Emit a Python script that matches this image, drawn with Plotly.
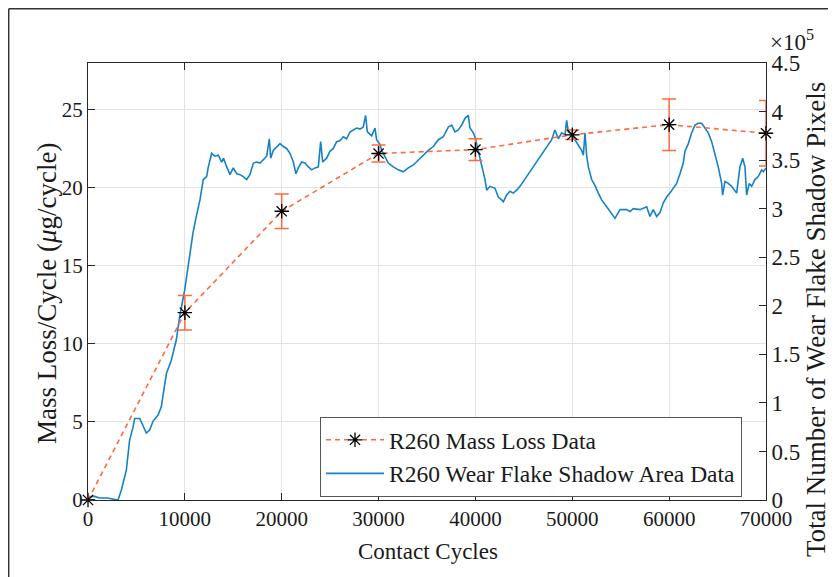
import plotly.graph_objects as go

# Mass loss data (left axis)
mass_cycles = [0, 10000, 20000, 30000, 40000, 50000, 60000, 70000]
mass_loss = [0.0, 12.0, 18.5, 22.2, 22.45, 23.4, 24.05, 23.5]
mass_err = [0.0, 1.1, 1.1, 0.55, 0.7, 0.3, 1.65, 2.1]

# Wear flake shadow area (right axis, pixels)
flake_cycles = [0, 600, 1200, 2000, 3100, 3440, 3960, 4300, 4650, 4820, 5340, 5680, 6020, 6370,
                6710, 7230, 7570, 8090, 8600, 9120, 9470, 9980, 10320, 10840, 11180, 11360,
                11560, 11900, 12250, 12420, 12770, 13110, 13450, 13800, 14000, 14320, 14660,
                15000, 15350, 15690, 16030, 16380, 16720, 17070, 17410, 17760, 18100, 18450,
                18720, 18860, 19130, 19480, 19820, 20170, 20510, 20850, 21200, 21470, 21710,
                22060, 22400, 22750, 23090, 23440, 23780, 24020, 24230, 24640, 24980, 25330,
                25670, 26000, 26360, 26700, 27050, 27390, 27740, 28100, 28420, 28660, 28840,
                29290, 29630, 29800, 30150, 30320, 30660, 31000, 31520, 32040, 32550, 33070,
                33590, 34100, 34620, 35130, 35650, 36170, 36680, 37200, 37550, 37890, 38230,
                38580, 38920, 39260, 39440, 39780, 39950, 40290, 40640, 40990, 41160, 41500,
                42020, 42360, 42710, 42880, 43220, 43570, 43910, 44260, 44600, 44940, 45290,
                45630, 45970, 46320, 46840, 47350, 47870, 48210, 48560, 48900, 49250, 49420,
                49590, 49940, 50280, 50620, 50970, 51140, 51310, 51490, 51660, 52000, 52340,
                52690, 53030, 53550, 54070, 54410, 54920, 55610, 55960, 56300, 56990, 57680,
                58020, 58190, 58360, 58710, 59050, 59400, 59740, 60080, 60430, 60770, 61120,
                61460, 61630, 61980, 62320, 62670, 63010, 63360, 63700, 64040, 64390, 64730,
                65070, 65420, 65520, 65760, 66110, 66450, 66800, 66970, 67310, 67590, 67830,
                68000, 68270, 68520, 68860, 69200, 69550, 69720, 70000]
flake_pixels_e5 = [0.02, 0.04, 0.02, 0.02, 0.00, 0.10, 0.31, 0.62, 0.75, 0.84, 0.84, 0.755, 0.69, 0.72,
                   0.81, 0.875, 0.96, 1.30, 1.44, 1.65, 1.89, 2.16, 2.40, 2.75, 2.92, 3.00,
                   3.09, 3.30, 3.33, 3.43, 3.57, 3.54, 3.55, 3.48, 3.52, 3.43, 3.35,
                   3.42, 3.36, 3.35, 3.33, 3.30, 3.35, 3.47, 3.48, 3.47, 3.50, 3.54,
                   3.72, 3.52, 3.60, 3.64, 3.67, 3.64, 3.62, 3.57, 3.48, 3.36, 3.42,
                   3.48, 3.47, 3.43, 3.40, 3.42, 3.43, 3.69, 3.48, 3.52, 3.59, 3.62,
                   3.69, 3.70, 3.74, 3.72, 3.79, 3.81, 3.83, 3.82, 3.84, 3.96, 3.79,
                   3.75, 3.83, 3.71, 3.66, 3.60, 3.54, 3.47, 3.43, 3.40, 3.38, 3.42,
                   3.45, 3.50, 3.55, 3.60, 3.64, 3.71, 3.74, 3.84, 3.86, 3.79, 3.81,
                   3.86, 3.93, 3.96, 3.83, 3.78, 3.74, 3.60, 3.43, 3.30, 3.19, 3.23,
                   3.21, 3.12, 3.09, 3.07, 3.14, 3.18, 3.16, 3.19, 3.23, 3.28, 3.33,
                   3.38, 3.43, 3.48, 3.57, 3.64, 3.71, 3.81, 3.72, 3.78, 3.76, 3.91,
                   3.79, 3.76, 3.71, 3.66, 3.60, 3.55, 3.78, 3.54, 3.43, 3.30, 3.24,
                   3.16, 3.09, 3.02, 2.95, 2.90, 2.99, 2.99, 2.97, 3.00, 2.99, 3.02,
                   2.92, 2.96, 2.99, 2.92, 2.96, 3.06, 3.12, 3.16, 3.21, 3.26, 3.36,
                   3.47, 3.59, 3.67, 3.78, 3.86, 3.88, 3.88, 3.83, 3.78, 3.69, 3.57,
                   3.43, 3.26, 3.14, 3.28, 3.26, 3.23, 3.18, 3.16, 3.43, 3.52, 3.43,
                   3.14, 3.26, 3.23, 3.30, 3.33, 3.40, 3.38, 3.42]
flake_pixels = [v * 1e5 for v in flake_pixels_e5]

x_ticks = [0, 10000, 20000, 30000, 40000, 50000, 60000, 70000]
left_ticks = [0, 5, 10, 15, 20, 25]
right_tickvals = [0, 0.5e5, 1e5, 1.5e5, 2e5, 2.5e5, 3e5, 3.5e5, 4e5, 4.5e5]
right_ticktext = ["0", "0.5", "1", "1.5", "2", "2.5", "3", "3.5", "4", "4.5"]

FONT = "Liberation Serif, Times New Roman, serif"
ORANGE = "#FF6A3D"
BLUE = "#1582C8"
AXC = "#262626"
TXT = "#1a1a1a"
FS = 21

fig = go.Figure()
# blue series on base axis (right side), orange on overlaying left axis so it draws on top
fig.add_trace(go.Scatter(
    x=flake_cycles, y=flake_pixels, xaxis="x", yaxis="y", mode="lines",
    line=dict(color=BLUE, width=1.6),
    name="R260 Wear Flake Shadow Area Data", legendrank=2,
))
fig.add_trace(go.Scatter(
    x=mass_cycles, y=mass_loss, xaxis="x", yaxis="y2", mode="lines+markers",
    line=dict(color=ORANGE, width=1.6, dash="5px,4px"),
    marker=dict(symbol="asterisk-open", size=12, color="black", line=dict(color="black", width=1.3)),
    error_y=dict(type="data", array=mass_err, color=ORANGE, thickness=1.5, width=7),
    name="R260 Mass Loss Data", legendrank=1, cliponaxis=False,
))

# the page body adds an 8px offset, so margins are reduced by 8
fig.update_layout(
    width=828, height=569,
    margin=dict(l=80, r=70, t=55, b=77),
    paper_bgcolor="white", plot_bgcolor="white",
    font=dict(family=FONT, size=FS, color=TXT),
    showlegend=True,
    legend=dict(x=(320 - 88) / 678, y=(500 - 417) / 437, xanchor="left", yanchor="top",
                bgcolor="white", bordercolor="#555555", borderwidth=1,
                font=dict(family=FONT, size=23.5, color=TXT),
                itemwidth=58, tracegroupgap=0),
    xaxis=dict(range=[0, 70000], tickvals=x_ticks, ticktext=[str(t) for t in x_ticks],
               ticks="inside", ticklen=7, tickcolor=AXC, showline=True, linecolor=AXC,
               linewidth=1, mirror="ticks", showgrid=True, gridcolor="#E3E3E3", gridwidth=1,
               zeroline=False, tickfont=dict(size=FS)),
    yaxis=dict(range=[0, 4.5e5], side="right", tickvals=right_tickvals,
               ticktext=right_ticktext, ticks="inside", ticklen=7, tickcolor=AXC,
               showline=True, linecolor=AXC, linewidth=1, showgrid=False, zeroline=False,
               tickfont=dict(size=23)),
    yaxis2=dict(range=[0, 28], overlaying="y", side="left", tickvals=left_ticks,
                ticks="inside", ticklen=7, tickcolor=AXC, showline=True, linecolor=AXC,
                linewidth=1, showgrid=True, gridcolor="#E3E3E3", zeroline=False,
                tickfont=dict(size=FS)),
)

def px(xs):
    return (xs - 88) / 678

def py(ys):
    return (500 - ys) / 437

annotations = [
    dict(text="Contact Cycles", x=px(428), y=py(551), xref="paper", yref="paper",
         xanchor="center", yanchor="middle", showarrow=False, font=dict(size=23)),
    dict(text="Mass Loss/Cycle (<i>μ</i>g/cycle)", x=px(47), y=py(293), xref="paper", yref="paper",
         xanchor="center", yanchor="middle", showarrow=False, textangle=-90, font=dict(size=27)),
    dict(text="Total Number of Wear Flake Shadow Pixels", x=px(816), y=py(320), xref="paper",
         yref="paper", xanchor="center", yanchor="middle", showarrow=False, textangle=-90,
         font=dict(size=27)),
    dict(text="×10<sup>5</sup>", x=px(768), y=py(41), xref="paper", yref="paper",
         xanchor="left", yanchor="middle", showarrow=False, font=dict(size=23)),
]
fig.update_layout(annotations=annotations)

# outer figure frame (top and left edges visible)
fig.add_shape(type="line", xref="paper", yref="paper", x0=px(8.7), x1=px(836), y0=py(8.7), y1=py(8.7),
              line=dict(color="#333333", width=1.5))
fig.add_shape(type="line", xref="paper", yref="paper", x0=px(8.7), x1=px(8.7), y0=py(8.7), y1=py(577),
              line=dict(color="#333333", width=1.5))

fig.write_html("out.html")
